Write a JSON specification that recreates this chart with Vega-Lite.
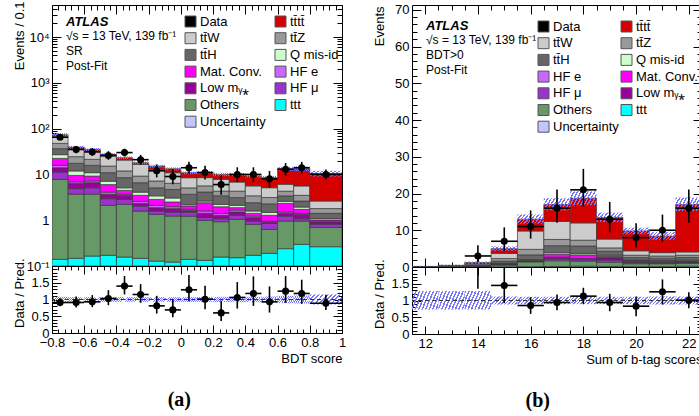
{
"$schema":"https://vega.github.io/schema/vega-lite/v6.json",
"background":"white",
"padding":{"left":12,"top":0,"right":0,"bottom":0},
"config":{
 "font":"Liberation Sans",
 "view":{"stroke":"#000000","strokeWidth":1},
 "axis":{"labelFont":"Liberation Sans","labelFontSize":13,"labelColor":"#000000","titleFont":"Liberation Sans","titleFontSize":13,"titleFontWeight":"normal","titleColor":"#000000","domain":false,"grid":false,"tickColor":"#000000","tickWidth":1,"labelFlush":false,"labelOverlap":false},
 "legend":{"labelFont":"Liberation Sans","labelFontSize":13,"labelColor":"#000000","symbolSize":121,"symbolType":"square","rowPadding":1.7,"labelOffset":3,"padding":0,"symbolStrokeWidth":1,"symbolStrokeColor":"#555555","labelLimit":200}
},
"datasets":{
 "histA":[
{"b0":-0.8,"b1":-0.7,"ttt":0.14,"Others":7.66,"HFmu":3.5,"Lowm":2.7,"HFe":1.8,"Mat":6.6,"Qmis":4.6,"ttH":9.5,"ttZ":11.2,"ttW":22.0,"tttt":4.0,"ulo":67.8,"uhi":79.6,"rulo":0.92,"ruhi":1.08},
{"b0":-0.7,"b1":-0.6,"ttt":0.147,"Others":3.55,"HFmu":1.2,"Lowm":1.5,"HFe":0.5,"Mat":2.6,"Qmis":2.4,"ttH":5.6,"ttZ":6.9,"ttW":11.0,"tttt":3.9,"ulo":36.5,"uhi":42.1,"rulo":0.93,"ruhi":1.07},
{"b0":-0.6,"b1":-0.5,"ttt":0.165,"Others":3.54,"HFmu":1.4,"Lowm":1.5,"HFe":0.6,"Mat":2.0,"Qmis":1.7,"ttH":4.9,"ttZ":5.5,"ttW":11.1,"tttt":2.9,"ulo":32.8,"uhi":37.8,"rulo":0.93,"ruhi":1.07},
{"b0":-0.5,"b1":-0.4,"ttt":0.171,"Others":1.94,"HFmu":0.84,"Lowm":0.75,"HFe":0.4,"Mat":1.9,"Qmis":1.1,"ttH":3.8,"ttZ":4.3,"ttW":10.0,"tttt":2.2,"ulo":25.5,"uhi":29.3,"rulo":0.93,"ruhi":1.07},
{"b0":-0.4,"b1":-0.3,"ttt":0.157,"Others":2.06,"HFmu":0.63,"Lowm":0.65,"HFe":0.2,"Mat":0.8,"Qmis":0.6,"ttH":3.4,"ttZ":3.4,"ttW":8.7,"tttt":2.6,"ulo":21.6,"uhi":24.8,"rulo":0.93,"ruhi":1.07},
{"b0":-0.3,"b1":-0.2,"ttt":0.147,"Others":1.44,"HFmu":0.45,"Lowm":0.29,"HFe":0.25,"Mat":0.92,"Qmis":0.6,"ttH":2.5,"ttZ":2.6,"ttW":7.4,"tttt":1.4,"ulo":16.7,"uhi":19.3,"rulo":0.93,"ruhi":1.07},
{"b0":-0.2,"b1":-0.1,"ttt":0.128,"Others":1.21,"HFmu":0.25,"Lowm":0.29,"HFe":0.23,"Mat":0.74,"Qmis":0.55,"ttH":1.7,"ttZ":2.1,"ttW":5.7,"tttt":2.3,"ulo":14.1,"uhi":16.3,"rulo":0.93,"ruhi":1.07},
{"b0":-0.1,"b1":0,"ttt":0.122,"Others":1.11,"HFmu":0.28,"Lowm":0.28,"HFe":0.18,"Mat":0.53,"Qmis":0.55,"ttH":1.65,"ttZ":1.7,"ttW":4.5,"tttt":2.4,"ulo":12.4,"uhi":14.2,"rulo":0.93,"ruhi":1.07},
{"b0":0,"b1":0.1,"ttt":0.14,"Others":1.08,"HFmu":0.28,"Lowm":0.14,"HFe":0.1,"Mat":0.3,"Qmis":0.14,"ttH":1.5,"ttZ":1.4,"ttW":3.4,"tttt":2.4,"ulo":10.1,"uhi":11.6,"rulo":0.93,"ruhi":1.07},
{"b0":0.1,"b1":0.2,"ttt":0.133,"Others":0.86,"HFmu":0.15,"Lowm":0.27,"HFe":0.18,"Mat":0.82,"Qmis":0.21,"ttH":1.5,"ttZ":1.5,"ttW":2.9,"tttt":2.5,"ulo":10.2,"uhi":11.8,"rulo":0.93,"ruhi":1.07},
{"b0":0.2,"b1":0.3,"ttt":0.157,"Others":0.77,"HFmu":0.15,"Lowm":0.2,"HFe":0.13,"Mat":0.56,"Qmis":0.25,"ttH":1.2,"ttZ":0.9,"ttW":3.5,"tttt":2.2,"ulo":9.2,"uhi":10.8,"rulo":0.92,"ruhi":1.08},
{"b0":0.3,"b1":0.4,"ttt":0.152,"Others":0.89,"HFmu":0.24,"Lowm":0.23,"HFe":0.16,"Mat":0.21,"Qmis":0.23,"ttH":1.0,"ttZ":1.2,"ttW":2.5,"tttt":3.2,"ulo":9.2,"uhi":10.8,"rulo":0.92,"ruhi":1.08},
{"b0":0.4,"b1":0.5,"ttt":0.171,"Others":0.64,"HFmu":0.15,"Lowm":0.18,"HFe":0.09,"Mat":0.18,"Qmis":0.18,"ttH":0.82,"ttZ":1.0,"ttW":2.2,"tttt":3.6,"ulo":8.5,"uhi":9.9,"rulo":0.92,"ruhi":1.08},
{"b0":0.5,"b1":0.6,"ttt":0.189,"Others":0.44,"HFmu":0.22,"Lowm":0.06,"HFe":0.04,"Mat":0.33,"Qmis":0.2,"ttH":0.8,"ttZ":0.85,"ttW":2.0,"tttt":3.4,"ulo":7.8,"uhi":9.3,"rulo":0.91,"ruhi":1.09},
{"b0":0.6,"b1":0.7,"ttt":0.239,"Others":0.72,"HFmu":0.27,"Lowm":0.18,"HFe":0.1,"Mat":0.82,"Qmis":0.25,"ttH":0.82,"ttZ":0.9,"ttW":1.8,"tttt":7.2,"ulo":12.0,"uhi":14.6,"rulo":0.89,"ruhi":1.11},
{"b0":0.7,"b1":0.8,"ttt":0.297,"Others":0.66,"HFmu":0.12,"Lowm":0.26,"HFe":0.07,"Mat":0.32,"Qmis":0.21,"ttH":0.68,"ttZ":0.88,"ttW":2.1,"tttt":7.7,"ulo":11.8,"uhi":14.8,"rulo":0.88,"ruhi":1.12},
{"b0":0.8,"b1":1.0,"ttt":0.264,"Others":0.43,"HFmu":0.12,"Lowm":0.1,"HFe":0.05,"Mat":0.05,"Qmis":0.07,"ttH":0.33,"ttZ":0.38,"ttW":0.83,"tttt":7.9,"ulo":9.0,"uhi":12.0,"rulo":0.85,"ruhi":1.15}
 ],
 "dataA":[
{"x":-0.75,"b0":-0.8,"b1":-0.7,"n":65,"nlo":57.0,"nhi":74.1,"r":0.91,"rlo":0.80,"rhi":1.04},
{"x":-0.65,"b0":-0.7,"b1":-0.6,"n":35,"nlo":29.1,"nhi":41.9,"r":0.91,"rlo":0.76,"rhi":1.09},
{"x":-0.55,"b0":-0.6,"b1":-0.5,"n":31,"nlo":25.5,"nhi":37.6,"r":0.93,"rlo":0.77,"rhi":1.13},
{"x":-0.45,"b0":-0.5,"b1":-0.4,"n":26,"nlo":20.9,"nhi":32.2,"r":1.03,"rlo":0.83,"rhi":1.28},
{"x":-0.35,"b0":-0.4,"b1":-0.3,"n":30,"nlo":24.6,"nhi":36.5,"r":1.40,"rlo":1.15,"rhi":1.70},
{"x":-0.25,"b0":-0.3,"b1":-0.2,"n":21,"nlo":16.4,"nhi":26.7,"r":1.15,"rlo":0.90,"rhi":1.46},
{"x":-0.15,"b0":-0.2,"b1":-0.1,"n":12,"nlo":8.6,"nhi":16.5,"r":0.81,"rlo":0.58,"rhi":1.11},
{"x":-0.05,"b0":-0.1,"b1":0,"n":9,"nlo":6.1,"nhi":13.1,"r":0.69,"rlo":0.47,"rhi":1.0},
{"x":0.05,"b0":0,"b1":0.1,"n":14,"nlo":10.3,"nhi":18.8,"r":1.29,"rlo":0.95,"rhi":1.73},
{"x":0.15,"b0":0.1,"b1":0.2,"n":11,"nlo":7.7,"nhi":15.4,"r":1.01,"rlo":0.71,"rhi":1.41},
{"x":0.25,"b0":0.2,"b1":0.3,"n":6,"nlo":3.6,"nhi":9.6,"r":0.60,"rlo":0.36,"rhi":0.96},
{"x":0.35,"b0":0.3,"b1":0.4,"n":10,"nlo":6.9,"nhi":14.3,"r":1.06,"rlo":0.73,"rhi":1.52},
{"x":0.45,"b0":0.4,"b1":0.5,"n":10,"nlo":6.9,"nhi":14.3,"r":1.18,"rlo":0.81,"rhi":1.69},
{"x":0.55,"b0":0.5,"b1":0.6,"n":8,"nlo":5.2,"nhi":11.9,"r":0.93,"rlo":0.61,"rhi":1.39},
{"x":0.65,"b0":0.6,"b1":0.7,"n":13,"nlo":9.4,"nhi":17.7,"r":1.25,"rlo":0.90,"rhi":1.70},
{"x":0.75,"b0":0.7,"b1":0.8,"n":14,"nlo":10.3,"nhi":18.8,"r":1.18,"rlo":0.87,"rhi":1.59},
{"x":0.9,"b0":0.8,"b1":1.0,"n":10,"nlo":7.8,"nhi":12.8,"r":0.89,"rlo":0.69,"rhi":1.14}
 ],
 "histB":[
{"b0":11.5,"b1":12.5,"ttt":0,"Others":0.02,"HFmu":0.01,"Lowm":0.01,"HFe":0,"Mat":0.01,"Qmis":0,"ttH":0.02,"ttZ":0.02,"ttW":0.03,"tttt":0.05,"ulo":0.12,"uhi":0.22,"rulo":0.73,"ruhi":1.28},
{"b0":12.5,"b1":13.5,"ttt":0,"Others":0.05,"HFmu":0.02,"Lowm":0.02,"HFe":0.01,"Mat":0.02,"Qmis":0.01,"ttH":0.05,"ttZ":0.05,"ttW":0.08,"tttt":0.15,"ulo":0.34,"uhi":0.58,"rulo":0.73,"ruhi":1.28},
{"b0":13.5,"b1":14.5,"ttt":0.02,"Others":0.1,"HFmu":0.05,"Lowm":0.03,"HFe":0.02,"Mat":0.03,"Qmis":0.02,"ttH":0.15,"ttZ":0.15,"ttW":0.25,"tttt":0.4,"ulo":0.9,"uhi":1.5,"rulo":0.73,"ruhi":1.28},
{"b0":14.5,"b1":15.5,"ttt":0.05,"Others":0.5,"HFmu":0.1,"Lowm":0.15,"HFe":0.05,"Mat":0.1,"Qmis":0.1,"ttH":0.55,"ttZ":0.7,"ttW":1.4,"tttt":1.3,"ulo":4.4,"uhi":5.6,"rulo":0.88,"ruhi":1.12},
{"b0":15.5,"b1":16.5,"ttt":0.1,"Others":1.3,"HFmu":0.15,"Lowm":0.15,"HFe":0.05,"Mat":0.1,"Qmis":0.15,"ttH":1.3,"ttZ":1.5,"ttW":5.0,"tttt":3.2,"ulo":11.8,"uhi":14.3,"rulo":0.89,"ruhi":1.11},
{"b0":16.5,"b1":17.5,"ttt":0.15,"Others":1.55,"HFmu":0.5,"Lowm":0.3,"HFe":0.2,"Mat":0.8,"Qmis":0.4,"ttH":1.9,"ttZ":1.7,"ttW":4.9,"tttt":4.6,"ulo":15.4,"uhi":18.7,"rulo":0.89,"ruhi":1.11},
{"b0":17.5,"b1":18.5,"ttt":0.2,"Others":1.4,"HFmu":0.4,"Lowm":0.1,"HFe":0.2,"Mat":1.0,"Qmis":0.4,"ttH":2.0,"ttZ":1.6,"ttW":4.7,"tttt":6.7,"ulo":16.8,"uhi":20.6,"rulo":0.89,"ruhi":1.11},
{"b0":18.5,"b1":19.5,"ttt":0.15,"Others":1.15,"HFmu":0.6,"Lowm":0.6,"HFe":0.2,"Mat":0.2,"Qmis":0.3,"ttH":1.1,"ttZ":0.9,"ttW":2.4,"tttt":5.9,"ulo":12.2,"uhi":14.8,"rulo":0.89,"ruhi":1.11},
{"b0":19.5,"b1":20.5,"ttt":0.1,"Others":0.8,"HFmu":0.3,"Lowm":0.4,"HFe":0.1,"Mat":0.1,"Qmis":0.1,"ttH":0.7,"ttZ":0.6,"ttW":1.2,"tttt":5.4,"ulo":8.9,"uhi":10.7,"rulo":0.89,"ruhi":1.11},
{"b0":20.5,"b1":21.5,"ttt":0.1,"Others":0.8,"HFmu":0.2,"Lowm":0.2,"HFe":0.1,"Mat":0.3,"Qmis":0.1,"ttH":0.6,"ttZ":0.6,"ttW":0.9,"tttt":4.5,"ulo":7.4,"uhi":9.5,"rulo":0.88,"ruhi":1.12},
{"b0":21.5,"b1":22.5,"ttt":0.2,"Others":0.8,"HFmu":0.2,"Lowm":0.3,"HFe":0.1,"Mat":0.1,"Qmis":0.2,"ttH":0.7,"ttZ":0.6,"ttW":0.9,"tttt":12.9,"ulo":15.2,"uhi":18.9,"rulo":0.88,"ruhi":1.12}
 ],
 "dataB":[
{"x":14,"b0":13.5,"b1":14.5,"n":3,"nlo":1.37,"nhi":5.92,"r":2.5,"rlo":1.35,"rhi":4.9},
{"x":15,"b0":14.5,"b1":15.5,"n":7,"nlo":4.42,"nhi":10.77,"r":1.45,"rlo":0.92,"rhi":2.2},
{"x":16,"b0":15.5,"b1":16.5,"n":11,"nlo":7.71,"nhi":15.4,"r":0.85,"rlo":0.6,"rhi":1.1},
{"x":17,"b0":16.5,"b1":17.5,"n":16,"nlo":12.04,"nhi":21.1,"r":0.94,"rlo":0.71,"rhi":1.18},
{"x":18,"b0":17.5,"b1":18.5,"n":21,"nlo":16.45,"nhi":26.7,"r":1.13,"rlo":0.89,"rhi":1.38},
{"x":19,"b0":18.5,"b1":19.5,"n":13,"nlo":9.42,"nhi":17.69,"r":0.94,"rlo":0.68,"rhi":1.2},
{"x":20,"b0":19.5,"b1":20.5,"n":8,"nlo":5.24,"nhi":11.94,"r":0.83,"rlo":0.53,"rhi":1.12},
{"x":21,"b0":20.5,"b1":21.5,"n":10,"nlo":6.89,"nhi":14.26,"r":1.26,"rlo":0.88,"rhi":1.63},
{"x":22,"b0":21.5,"b1":22.5,"n":16,"nlo":12.04,"nhi":21.1,"r":1.01,"rlo":0.77,"rhi":1.25}
 ]
},
"hconcat":[
 {
  "title":{"text":"(a)","orient":"bottom","anchor":"middle","frame":"bounds","font":"Liberation Serif","fontSize":20,"fontWeight":"bold","color":"#000000","offset":24},
  "spacing":0,"bounds":"flush",
  "resolve":{"scale":{"x":"independent","y":"independent","color":"independent"}},
  "vconcat":[
   {
    "width":290,"height":261,
    "title":{"text":"ATLAS","subtitle":["√s = 13 TeV, 139 fb⁻¹","SR","Post-Fit"],"orient":"top","anchor":"start","frame":"group","offset":-71,"dx":14,"font":"Liberation Sans","fontSize":13,"fontStyle":"italic","fontWeight":"bold","color":"#000000","subtitleFont":"Liberation Sans","subtitleFontSize":12,"subtitleColor":"#000000","subtitleLineHeight":15,"subtitlePadding":2},
    "resolve":{"axis":{"x":"independent","y":"independent"}},
    "layer":[
     {"data":{"name":"histA"},
      "transform":[{"fold":["ttt","Others","HFmu","Lowm","HFe","Mat","Qmis","ttH","ttZ","ttW","tttt"],"as":["c","v"]},{"stack":"v","groupby":["b0"],"as":["v0","v1"]}],
      "mark":{"type":"bar","stroke":"#3a3a3a","strokeWidth":0.7,"clip":true},
      "encoding":{
       "x":{"field":"b0","type":"quantitative","scale":{"domain":[-0.8,1],"nice":false,"zero":false},"axis":{"orient":"bottom","values":[-0.8,-0.6,-0.4,-0.2,0,0.2,0.4,0.6,0.8,1],"labels":false,"tickSize":-9,"title":null}},
       "x2":{"field":"b1"},
       "y":{"field":"v1","type":"quantitative","scale":{"type":"log","domain":[0.1,50119],"nice":false,"clamp":true},"axis":{"orient":"left","values":[0.1,1,10,100,1000,10000],"tickSize":-9,"labelPadding":12,"labelExpr":"datum.value < 0.5 ? '10⁻¹' : datum.value < 5 ? '1' : datum.value < 50 ? '10' : datum.value < 500 ? '10²' : datum.value < 5000 ? '10³' : '10⁴'","title":"Events / 0.1","titleX":-26,"titleY":-4,"titleAlign":"right","titleAngle":-90,"titleBaseline":"bottom"}},
       "y2":{"field":"v0"},
       "color":{"field":"c","type":"nominal",
        "scale":{"domain":["Data","ttW","ttH","Mat","Lowm","Others","Unc","tttt","ttZ","Qmis","HFe","HFmu","ttt"],"range":["#000000","#cccccc","#666666","#ff00ff","#990099","#669966","#c4c4ff","#d40000","#999999","#ccffcc","#cc66ff","#9933cc","#00ffff"]},
        "legend":{"orient":"none","legendX":132,"legendY":10,"columns":2,"columnPadding":7,"title":null,
         "labelExpr":"datum.value == 'tttt' ? 'tt̄tt̄' : datum.value == 'ttW' ? 'tt̄W' : datum.value == 'ttZ' ? 'tt̄Z' : datum.value == 'ttH' ? 'tt̄H' : datum.value == 'Qmis' ? 'Q mis-id' : datum.value == 'Mat' ? 'Mat. Conv.' : datum.value == 'HFe' ? 'HF e' : datum.value == 'Lowm' ? 'Low mᵧ⁎' : datum.value == 'HFmu' ? 'HF μ' : datum.value == 'Unc' ? 'Uncertainty' : datum.value"}}
      }},
     {"data":{"name":"histA"},
      "mark":{"type":"rect","strokeWidth":0,"clip":true,"fill":{"gradient":"linear","x1":0,"y1":0,"x2":1.2,"y2":0.36,"stops":[
{"offset":0,"color":"#7676ff"},{"offset":0.045,"color":"#7676ff"},{"offset":0.045,"color":"rgba(255,255,255,0)"},{"offset":0.1,"color":"rgba(255,255,255,0)"},
{"offset":0.1,"color":"#7676ff"},{"offset":0.145,"color":"#7676ff"},{"offset":0.145,"color":"rgba(255,255,255,0)"},{"offset":0.2,"color":"rgba(255,255,255,0)"},
{"offset":0.2,"color":"#7676ff"},{"offset":0.245,"color":"#7676ff"},{"offset":0.245,"color":"rgba(255,255,255,0)"},{"offset":0.3,"color":"rgba(255,255,255,0)"},
{"offset":0.3,"color":"#7676ff"},{"offset":0.345,"color":"#7676ff"},{"offset":0.345,"color":"rgba(255,255,255,0)"},{"offset":0.4,"color":"rgba(255,255,255,0)"},
{"offset":0.4,"color":"#7676ff"},{"offset":0.445,"color":"#7676ff"},{"offset":0.445,"color":"rgba(255,255,255,0)"},{"offset":0.5,"color":"rgba(255,255,255,0)"},
{"offset":0.5,"color":"#7676ff"},{"offset":0.545,"color":"#7676ff"},{"offset":0.545,"color":"rgba(255,255,255,0)"},{"offset":0.6,"color":"rgba(255,255,255,0)"},
{"offset":0.6,"color":"#7676ff"},{"offset":0.645,"color":"#7676ff"},{"offset":0.645,"color":"rgba(255,255,255,0)"},{"offset":0.7,"color":"rgba(255,255,255,0)"},
{"offset":0.7,"color":"#7676ff"},{"offset":0.745,"color":"#7676ff"},{"offset":0.745,"color":"rgba(255,255,255,0)"},{"offset":0.8,"color":"rgba(255,255,255,0)"},
{"offset":0.8,"color":"#7676ff"},{"offset":0.845,"color":"#7676ff"},{"offset":0.845,"color":"rgba(255,255,255,0)"},{"offset":0.9,"color":"rgba(255,255,255,0)"},
{"offset":0.9,"color":"#7676ff"},{"offset":0.945,"color":"#7676ff"},{"offset":0.945,"color":"rgba(255,255,255,0)"},{"offset":1,"color":"rgba(255,255,255,0)"}]}},
      "encoding":{
       "x":{"field":"b0","type":"quantitative","scale":{"domain":[-0.8,1],"nice":false,"zero":false},"axis":{"orient":"top","values":[-0.8,-0.6,-0.4,-0.2,0,0.2,0.4,0.6,0.8,1],"labels":false,"tickSize":-9,"title":null}},
       "x2":{"field":"b1"},
       "y":{"field":"ulo","type":"quantitative","scale":{"type":"log","domain":[0.1,50119],"nice":false,"clamp":true},"axis":{"orient":"right","values":[0.1,1,10,100,1000,10000],"labels":false,"tickSize":-9,"title":null}},
       "y2":{"field":"uhi"}
      }},
     {"data":{"name":"dataA"},
      "mark":{"type":"rule","color":"#000000","strokeWidth":1.6,"clip":true},
      "encoding":{
       "x":{"field":"b0","type":"quantitative","scale":{"domain":[-0.8,1],"nice":false,"zero":false},"axis":{"orient":"bottom","values":[-0.76,-0.72,-0.68,-0.64,-0.56,-0.52,-0.48,-0.44,-0.36,-0.32,-0.28,-0.24,-0.16,-0.12,-0.08,-0.04,0.04,0.08,0.12,0.16,0.24,0.28,0.32,0.36,0.44,0.48,0.52,0.56,0.64,0.68,0.72,0.76,0.84,0.88,0.92,0.96],"labels":false,"tickSize":-5,"title":null}},
       "x2":{"field":"b1"},
       "y":{"field":"n","type":"quantitative","scale":{"type":"log","domain":[0.1,50119],"nice":false,"clamp":true},"axis":{"orient":"left","values":[0.2,0.3,0.4,0.5,0.6,0.7,0.8,0.9,2,3,4,5,6,7,8,9,20,30,40,50,60,70,80,90,200,300,400,500,600,700,800,900,2000,3000,4000,5000,6000,7000,8000,9000,20000,30000,40000],"labels":false,"tickSize":-5,"title":null}}
      }},
     {"data":{"name":"dataA"},
      "mark":{"type":"rule","color":"#000000","strokeWidth":1.6,"clip":true},
      "encoding":{
       "x":{"field":"x","type":"quantitative","scale":{"domain":[-0.8,1],"nice":false,"zero":false},"axis":{"orient":"top","values":[-0.76,-0.72,-0.68,-0.64,-0.56,-0.52,-0.48,-0.44,-0.36,-0.32,-0.28,-0.24,-0.16,-0.12,-0.08,-0.04,0.04,0.08,0.12,0.16,0.24,0.28,0.32,0.36,0.44,0.48,0.52,0.56,0.64,0.68,0.72,0.76,0.84,0.88,0.92,0.96],"labels":false,"tickSize":-5,"title":null}},
       "y":{"field":"nlo","type":"quantitative","scale":{"type":"log","domain":[0.1,50119],"nice":false,"clamp":true},"axis":{"orient":"right","values":[0.2,0.3,0.4,0.5,0.6,0.7,0.8,0.9,2,3,4,5,6,7,8,9,20,30,40,50,60,70,80,90,200,300,400,500,600,700,800,900,2000,3000,4000,5000,6000,7000,8000,9000,20000,30000,40000],"labels":false,"tickSize":-5,"title":null}},
       "y2":{"field":"nhi"}
      }},
     {"data":{"name":"dataA"},
      "mark":{"type":"point","filled":true,"size":50,"color":"#000000","opacity":1,"clip":true},
      "encoding":{
       "x":{"field":"x","type":"quantitative","scale":{"domain":[-0.8,1],"nice":false,"zero":false},"axis":null},
       "y":{"field":"n","type":"quantitative","scale":{"type":"log","domain":[0.1,50119],"nice":false,"clamp":true},"axis":null}
      }}
    ]
   },
   {
    "width":290,"height":67,
    "resolve":{"axis":{"x":"independent","y":"independent"}},
    "layer":[
     {"data":{"name":"histA"},
      "mark":{"type":"rect","strokeWidth":0,"clip":true,"fill":{"gradient":"linear","x1":0,"y1":0,"x2":1.2,"y2":0.36,"stops":[
{"offset":0,"color":"#7676ff"},{"offset":0.045,"color":"#7676ff"},{"offset":0.045,"color":"rgba(255,255,255,0)"},{"offset":0.1,"color":"rgba(255,255,255,0)"},
{"offset":0.1,"color":"#7676ff"},{"offset":0.145,"color":"#7676ff"},{"offset":0.145,"color":"rgba(255,255,255,0)"},{"offset":0.2,"color":"rgba(255,255,255,0)"},
{"offset":0.2,"color":"#7676ff"},{"offset":0.245,"color":"#7676ff"},{"offset":0.245,"color":"rgba(255,255,255,0)"},{"offset":0.3,"color":"rgba(255,255,255,0)"},
{"offset":0.3,"color":"#7676ff"},{"offset":0.345,"color":"#7676ff"},{"offset":0.345,"color":"rgba(255,255,255,0)"},{"offset":0.4,"color":"rgba(255,255,255,0)"},
{"offset":0.4,"color":"#7676ff"},{"offset":0.445,"color":"#7676ff"},{"offset":0.445,"color":"rgba(255,255,255,0)"},{"offset":0.5,"color":"rgba(255,255,255,0)"},
{"offset":0.5,"color":"#7676ff"},{"offset":0.545,"color":"#7676ff"},{"offset":0.545,"color":"rgba(255,255,255,0)"},{"offset":0.6,"color":"rgba(255,255,255,0)"},
{"offset":0.6,"color":"#7676ff"},{"offset":0.645,"color":"#7676ff"},{"offset":0.645,"color":"rgba(255,255,255,0)"},{"offset":0.7,"color":"rgba(255,255,255,0)"},
{"offset":0.7,"color":"#7676ff"},{"offset":0.745,"color":"#7676ff"},{"offset":0.745,"color":"rgba(255,255,255,0)"},{"offset":0.8,"color":"rgba(255,255,255,0)"},
{"offset":0.8,"color":"#7676ff"},{"offset":0.845,"color":"#7676ff"},{"offset":0.845,"color":"rgba(255,255,255,0)"},{"offset":0.9,"color":"rgba(255,255,255,0)"},
{"offset":0.9,"color":"#7676ff"},{"offset":0.945,"color":"#7676ff"},{"offset":0.945,"color":"rgba(255,255,255,0)"},{"offset":1,"color":"rgba(255,255,255,0)"}]}},
      "encoding":{
       "x":{"field":"b0","type":"quantitative","scale":{"domain":[-0.8,1],"nice":false,"zero":false},"axis":{"orient":"bottom","values":[-0.8,-0.6,-0.4,-0.2,0,0.2,0.4,0.6,0.8,1],"tickSize":-8,"labelPadding":11,"format":"~g","title":"BDT score","titleX":290,"titleY":25,"titleAlign":"right","titleBaseline":"middle","titleAngle":0}},
       "x2":{"field":"b1"},
       "y":{"field":"rulo","type":"quantitative","scale":{"domain":[0,2],"nice":false,"zero":false},"axis":{"orient":"left","values":[0,0.5,1,1.5],"tickSize":-9,"labelPadding":12,"format":"~g","title":"Data / Pred.","titleX":-26,"titleY":-8,"titleAlign":"right","titleAngle":-90,"titleBaseline":"bottom"}},
       "y2":{"field":"ruhi"}
      }},
     {"data":{"values":[{}]},
      "mark":{"type":"rule","strokeDash":[4,3],"color":"#333333","strokeWidth":1},
      "encoding":{"y":{"datum":1,"type":"quantitative","scale":{"domain":[0,2],"nice":false,"zero":false},"axis":null}}},
     {"data":{"name":"dataA"},
      "mark":{"type":"rule","color":"#000000","strokeWidth":1.6,"clip":true},
      "encoding":{
       "x":{"field":"b0","type":"quantitative","scale":{"domain":[-0.8,1],"nice":false,"zero":false},"axis":{"orient":"top","values":[-0.8,-0.6,-0.4,-0.2,0,0.2,0.4,0.6,0.8,1],"labels":false,"tickSize":-8,"title":null}},
       "x2":{"field":"b1"},
       "y":{"field":"r","type":"quantitative","scale":{"domain":[0,2],"nice":false,"zero":false},"axis":{"orient":"right","values":[0,0.5,1,1.5],"labels":false,"tickSize":-9,"title":null}}
      }},
     {"data":{"name":"dataA"},
      "mark":{"type":"rule","color":"#000000","strokeWidth":1.6,"clip":true},
      "encoding":{
       "x":{"field":"x","type":"quantitative","scale":{"domain":[-0.8,1],"nice":false,"zero":false},"axis":{"orient":"bottom","values":[-0.76,-0.72,-0.68,-0.64,-0.56,-0.52,-0.48,-0.44,-0.36,-0.32,-0.28,-0.24,-0.16,-0.12,-0.08,-0.04,0.04,0.08,0.12,0.16,0.24,0.28,0.32,0.36,0.44,0.48,0.52,0.56,0.64,0.68,0.72,0.76,0.84,0.88,0.92,0.96],"labels":false,"tickSize":-4,"title":null}},
       "y":{"field":"rlo","type":"quantitative","scale":{"domain":[0,2],"nice":false,"zero":false},"axis":{"orient":"left","values":[0.1,0.2,0.3,0.4,0.6,0.7,0.8,0.9,1.1,1.2,1.3,1.4,1.6,1.7,1.8,1.9],"labels":false,"tickSize":-5,"title":null}},
       "y2":{"field":"rhi"}
      }},
     {"data":{"name":"dataA"},
      "mark":{"type":"point","filled":true,"size":50,"color":"#000000","opacity":1,"clip":true},
      "encoding":{
       "x":{"field":"x","type":"quantitative","scale":{"domain":[-0.8,1],"nice":false,"zero":false},"axis":{"orient":"top","values":[-0.76,-0.72,-0.68,-0.64,-0.56,-0.52,-0.48,-0.44,-0.36,-0.32,-0.28,-0.24,-0.16,-0.12,-0.08,-0.04,0.04,0.08,0.12,0.16,0.24,0.28,0.32,0.36,0.44,0.48,0.52,0.56,0.64,0.68,0.72,0.76,0.84,0.88,0.92,0.96],"labels":false,"tickSize":-4,"title":null}},
       "y":{"field":"r","type":"quantitative","scale":{"domain":[0,2],"nice":false,"zero":false},"axis":{"orient":"right","values":[0.1,0.2,0.3,0.4,0.6,0.7,0.8,0.9,1.1,1.2,1.3,1.4,1.6,1.7,1.8,1.9],"labels":false,"tickSize":-5,"title":null}}
      }}
    ]
   }
  ]
 },
 {
  "title":{"text":"(b)","orient":"bottom","anchor":"middle","frame":"bounds","font":"Liberation Serif","fontSize":20,"fontWeight":"bold","color":"#000000","offset":24},
  "spacing":0,"bounds":"flush",
  "resolve":{"scale":{"x":"independent","y":"independent","color":"independent"}},
  "vconcat":[
   {
    "width":290,"height":262,
    "title":{"text":"ATLAS","subtitle":["√s = 13 TeV, 139 fb⁻¹","BDT>0","Post-Fit"],"orient":"top","anchor":"start","frame":"group","offset":-72,"dx":14,"font":"Liberation Sans","fontSize":13,"fontStyle":"italic","fontWeight":"bold","color":"#000000","subtitleFont":"Liberation Sans","subtitleFontSize":12,"subtitleColor":"#000000","subtitleLineHeight":15,"subtitlePadding":2},
    "resolve":{"axis":{"x":"independent","y":"independent"}},
    "layer":[
     {"data":{"name":"histB"},
      "transform":[{"fold":["ttt","Others","HFmu","Lowm","HFe","Mat","Qmis","ttH","ttZ","ttW","tttt"],"as":["c","v"]},{"stack":"v","groupby":["b0"],"as":["v0","v1"]}],
      "mark":{"type":"bar","stroke":"#3a3a3a","strokeWidth":0.7,"clip":true},
      "encoding":{
       "x":{"field":"b0","type":"quantitative","scale":{"domain":[11.5,22.5],"nice":false,"zero":false},"axis":{"orient":"bottom","values":[12,14,16,18,20,22],"labels":false,"tickSize":-9,"title":null}},
       "x2":{"field":"b1"},
       "y":{"field":"v1","type":"quantitative","scale":{"domain":[0,71.3],"nice":false,"zero":false},"axis":{"orient":"left","values":[0,10,20,30,40,50,60,70],"tickSize":-9,"labelPadding":12,"title":"Events","titleX":-26,"titleY":1,"titleAlign":"right","titleAngle":-90,"titleBaseline":"bottom"}},
       "y2":{"field":"v0"},
       "color":{"field":"c","type":"nominal",
        "scale":{"domain":["Data","ttW","ttH","HFe","HFmu","Others","Unc","tttt","ttZ","Qmis","Mat","Lowm","ttt"],"range":["#000000","#cccccc","#666666","#cc66ff","#9933cc","#669966","#c4c4ff","#d40000","#999999","#ccffcc","#ff00ff","#990099","#00ffff"]},
        "legend":{"orient":"none","legendX":125,"legendY":15,"columns":2,"columnPadding":0,"title":null,
         "labelExpr":"datum.value == 'tttt' ? 'tt̄tt̄' : datum.value == 'ttW' ? 'tt̄W' : datum.value == 'ttZ' ? 'tt̄Z' : datum.value == 'ttH' ? 'tt̄H' : datum.value == 'Qmis' ? 'Q mis-id' : datum.value == 'Mat' ? 'Mat. Conv.' : datum.value == 'HFe' ? 'HF e' : datum.value == 'Lowm' ? 'Low mᵧ⁎' : datum.value == 'HFmu' ? 'HF μ' : datum.value == 'Unc' ? 'Uncertainty' : datum.value"}}
      }},
     {"data":{"name":"histB"},
      "mark":{"type":"rect","strokeWidth":0,"clip":true,"fill":{"gradient":"linear","x1":0,"y1":0,"x2":1.2,"y2":0.36,"stops":[
{"offset":0,"color":"#7676ff"},{"offset":0.045,"color":"#7676ff"},{"offset":0.045,"color":"rgba(255,255,255,0)"},{"offset":0.1,"color":"rgba(255,255,255,0)"},
{"offset":0.1,"color":"#7676ff"},{"offset":0.145,"color":"#7676ff"},{"offset":0.145,"color":"rgba(255,255,255,0)"},{"offset":0.2,"color":"rgba(255,255,255,0)"},
{"offset":0.2,"color":"#7676ff"},{"offset":0.245,"color":"#7676ff"},{"offset":0.245,"color":"rgba(255,255,255,0)"},{"offset":0.3,"color":"rgba(255,255,255,0)"},
{"offset":0.3,"color":"#7676ff"},{"offset":0.345,"color":"#7676ff"},{"offset":0.345,"color":"rgba(255,255,255,0)"},{"offset":0.4,"color":"rgba(255,255,255,0)"},
{"offset":0.4,"color":"#7676ff"},{"offset":0.445,"color":"#7676ff"},{"offset":0.445,"color":"rgba(255,255,255,0)"},{"offset":0.5,"color":"rgba(255,255,255,0)"},
{"offset":0.5,"color":"#7676ff"},{"offset":0.545,"color":"#7676ff"},{"offset":0.545,"color":"rgba(255,255,255,0)"},{"offset":0.6,"color":"rgba(255,255,255,0)"},
{"offset":0.6,"color":"#7676ff"},{"offset":0.645,"color":"#7676ff"},{"offset":0.645,"color":"rgba(255,255,255,0)"},{"offset":0.7,"color":"rgba(255,255,255,0)"},
{"offset":0.7,"color":"#7676ff"},{"offset":0.745,"color":"#7676ff"},{"offset":0.745,"color":"rgba(255,255,255,0)"},{"offset":0.8,"color":"rgba(255,255,255,0)"},
{"offset":0.8,"color":"#7676ff"},{"offset":0.845,"color":"#7676ff"},{"offset":0.845,"color":"rgba(255,255,255,0)"},{"offset":0.9,"color":"rgba(255,255,255,0)"},
{"offset":0.9,"color":"#7676ff"},{"offset":0.945,"color":"#7676ff"},{"offset":0.945,"color":"rgba(255,255,255,0)"},{"offset":1,"color":"rgba(255,255,255,0)"}]}},
      "encoding":{
       "x":{"field":"b0","type":"quantitative","scale":{"domain":[11.5,22.5],"nice":false,"zero":false},"axis":{"orient":"top","values":[12,14,16,18,20,22],"labels":false,"tickSize":-9,"title":null}},
       "x2":{"field":"b1"},
       "y":{"field":"ulo","type":"quantitative","scale":{"domain":[0,71.3],"nice":false,"zero":false},"axis":{"orient":"right","values":[0,10,20,30,40,50,60,70],"labels":false,"tickSize":-9,"title":null}},
       "y2":{"field":"uhi"}
      }},
     {"data":{"name":"dataB"},
      "mark":{"type":"rule","color":"#000000","strokeWidth":1.6,"clip":true},
      "encoding":{
       "x":{"field":"b0","type":"quantitative","scale":{"domain":[11.5,22.5],"nice":false,"zero":false},"axis":{"orient":"bottom","values":[12.5,13,13.5,14.5,15,15.5,16.5,17,17.5,18.5,19,19.5,20.5,21,21.5],"labels":false,"tickSize":-5,"title":null}},
       "x2":{"field":"b1"},
       "y":{"field":"n","type":"quantitative","scale":{"domain":[0,71.3],"nice":false,"zero":false},"axis":{"orient":"left","values":[2,4,6,8,12,14,16,18,22,24,26,28,32,34,36,38,42,44,46,48,52,54,56,58,62,64,66,68],"labels":false,"tickSize":-5,"title":null}}
      }},
     {"data":{"name":"dataB"},
      "mark":{"type":"rule","color":"#000000","strokeWidth":1.6,"clip":true},
      "encoding":{
       "x":{"field":"x","type":"quantitative","scale":{"domain":[11.5,22.5],"nice":false,"zero":false},"axis":{"orient":"top","values":[12.5,13,13.5,14.5,15,15.5,16.5,17,17.5,18.5,19,19.5,20.5,21,21.5],"labels":false,"tickSize":-5,"title":null}},
       "y":{"field":"nlo","type":"quantitative","scale":{"domain":[0,71.3],"nice":false,"zero":false},"axis":{"orient":"right","values":[2,4,6,8,12,14,16,18,22,24,26,28,32,34,36,38,42,44,46,48,52,54,56,58,62,64,66,68],"labels":false,"tickSize":-5,"title":null}},
       "y2":{"field":"nhi"}
      }},
     {"data":{"name":"dataB"},
      "mark":{"type":"point","filled":true,"size":50,"color":"#000000","opacity":1,"clip":true},
      "encoding":{
       "x":{"field":"x","type":"quantitative","scale":{"domain":[11.5,22.5],"nice":false,"zero":false},"axis":null},
       "y":{"field":"n","type":"quantitative","scale":{"domain":[0,71.3],"nice":false,"zero":false},"axis":null}
      }}
    ]
   },
   {
    "width":290,"height":67,
    "resolve":{"axis":{"x":"independent","y":"independent"}},
    "layer":[
     {"data":{"name":"histB"},
      "mark":{"type":"rect","strokeWidth":0,"clip":true,"fill":{"gradient":"linear","x1":0,"y1":0,"x2":1.2,"y2":0.36,"stops":[
{"offset":0,"color":"#7676ff"},{"offset":0.045,"color":"#7676ff"},{"offset":0.045,"color":"rgba(255,255,255,0)"},{"offset":0.1,"color":"rgba(255,255,255,0)"},
{"offset":0.1,"color":"#7676ff"},{"offset":0.145,"color":"#7676ff"},{"offset":0.145,"color":"rgba(255,255,255,0)"},{"offset":0.2,"color":"rgba(255,255,255,0)"},
{"offset":0.2,"color":"#7676ff"},{"offset":0.245,"color":"#7676ff"},{"offset":0.245,"color":"rgba(255,255,255,0)"},{"offset":0.3,"color":"rgba(255,255,255,0)"},
{"offset":0.3,"color":"#7676ff"},{"offset":0.345,"color":"#7676ff"},{"offset":0.345,"color":"rgba(255,255,255,0)"},{"offset":0.4,"color":"rgba(255,255,255,0)"},
{"offset":0.4,"color":"#7676ff"},{"offset":0.445,"color":"#7676ff"},{"offset":0.445,"color":"rgba(255,255,255,0)"},{"offset":0.5,"color":"rgba(255,255,255,0)"},
{"offset":0.5,"color":"#7676ff"},{"offset":0.545,"color":"#7676ff"},{"offset":0.545,"color":"rgba(255,255,255,0)"},{"offset":0.6,"color":"rgba(255,255,255,0)"},
{"offset":0.6,"color":"#7676ff"},{"offset":0.645,"color":"#7676ff"},{"offset":0.645,"color":"rgba(255,255,255,0)"},{"offset":0.7,"color":"rgba(255,255,255,0)"},
{"offset":0.7,"color":"#7676ff"},{"offset":0.745,"color":"#7676ff"},{"offset":0.745,"color":"rgba(255,255,255,0)"},{"offset":0.8,"color":"rgba(255,255,255,0)"},
{"offset":0.8,"color":"#7676ff"},{"offset":0.845,"color":"#7676ff"},{"offset":0.845,"color":"rgba(255,255,255,0)"},{"offset":0.9,"color":"rgba(255,255,255,0)"},
{"offset":0.9,"color":"#7676ff"},{"offset":0.945,"color":"#7676ff"},{"offset":0.945,"color":"rgba(255,255,255,0)"},{"offset":1,"color":"rgba(255,255,255,0)"}]}},
      "encoding":{
       "x":{"field":"b0","type":"quantitative","scale":{"domain":[11.5,22.5],"nice":false,"zero":false},"axis":{"orient":"bottom","values":[12,14,16,18,20,22],"tickSize":-8,"labelPadding":11,"format":"~g","title":"Sum of b-tag scores","titleX":290,"titleY":25,"titleAlign":"right","titleBaseline":"middle","titleAngle":0}},
       "x2":{"field":"b1"},
       "y":{"field":"rulo","type":"quantitative","scale":{"domain":[0,2],"nice":false,"zero":false},"axis":{"orient":"left","values":[0,0.5,1,1.5],"tickSize":-9,"labelPadding":12,"format":"~g","title":"Data / Pred.","titleX":-26,"titleY":-8,"titleAlign":"right","titleAngle":-90,"titleBaseline":"bottom"}},
       "y2":{"field":"ruhi"}
      }},
     {"data":{"values":[{}]},
      "mark":{"type":"rule","strokeDash":[4,3],"color":"#333333","strokeWidth":1},
      "encoding":{"y":{"datum":1,"type":"quantitative","scale":{"domain":[0,2],"nice":false,"zero":false},"axis":null}}},
     {"data":{"name":"dataB"},
      "mark":{"type":"rule","color":"#000000","strokeWidth":1.6,"clip":true},
      "encoding":{
       "x":{"field":"b0","type":"quantitative","scale":{"domain":[11.5,22.5],"nice":false,"zero":false},"axis":{"orient":"top","values":[12,14,16,18,20,22],"labels":false,"tickSize":-8,"title":null}},
       "x2":{"field":"b1"},
       "y":{"field":"r","type":"quantitative","scale":{"domain":[0,2],"nice":false,"zero":false},"axis":{"orient":"right","values":[0,0.5,1,1.5],"labels":false,"tickSize":-9,"title":null}}
      }},
     {"data":{"name":"dataB"},
      "mark":{"type":"rule","color":"#000000","strokeWidth":1.6,"clip":true},
      "encoding":{
       "x":{"field":"x","type":"quantitative","scale":{"domain":[11.5,22.5],"nice":false,"zero":false},"axis":{"orient":"bottom","values":[12.5,13,13.5,14.5,15,15.5,16.5,17,17.5,18.5,19,19.5,20.5,21,21.5],"labels":false,"tickSize":-4,"title":null}},
       "y":{"field":"rlo","type":"quantitative","scale":{"domain":[0,2],"nice":false,"zero":false},"axis":{"orient":"left","values":[0.1,0.2,0.3,0.4,0.6,0.7,0.8,0.9,1.1,1.2,1.3,1.4,1.6,1.7,1.8,1.9],"labels":false,"tickSize":-5,"title":null}},
       "y2":{"field":"rhi"}
      }},
     {"data":{"name":"dataB"},
      "mark":{"type":"point","filled":true,"size":50,"color":"#000000","opacity":1,"clip":true},
      "encoding":{
       "x":{"field":"x","type":"quantitative","scale":{"domain":[11.5,22.5],"nice":false,"zero":false},"axis":{"orient":"top","values":[12.5,13,13.5,14.5,15,15.5,16.5,17,17.5,18.5,19,19.5,20.5,21,21.5],"labels":false,"tickSize":-4,"title":null}},
       "y":{"field":"r","type":"quantitative","scale":{"domain":[0,2],"nice":false,"zero":false},"axis":{"orient":"right","values":[0.1,0.2,0.3,0.4,0.6,0.7,0.8,0.9,1.1,1.2,1.3,1.4,1.6,1.7,1.8,1.9],"labels":false,"tickSize":-5,"title":null}}
      }}
    ]
   }
  ]
 }
],
"spacing":25,
"bounds":"full",
"resolve":{"scale":{"x":"independent","y":"independent","color":"independent"},"legend":{"color":"independent"}}
}
